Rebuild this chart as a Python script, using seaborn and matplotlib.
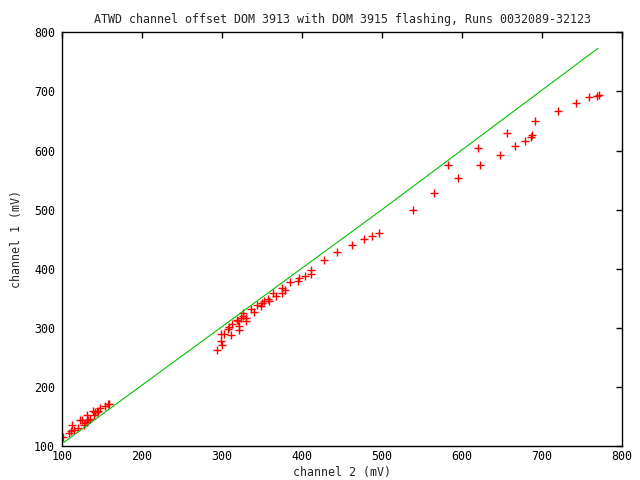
import pandas as pd
import matplotlib
matplotlib.use("Agg")
import matplotlib.pyplot as plt
import seaborn as sns

# channel 2 / channel 1 readings (mV)
ch2 = [101.7, 108.8, 111.3, 112.9, 115.4, 120.4, 122.5, 124.6, 127.1, 128.8,
       130.8, 131.7, 132.9, 134.6, 139.2, 140.4, 141.3, 143.8, 145.4, 147.1,
       153.8, 157.1, 159.1,
       294.2, 299.2, 300.4, 299.2, 302.9, 311.3, 307.5, 308.3, 312.9, 321.7,
       321.7, 318.3, 319.6, 324.2, 326.7, 326.7, 330.4, 330.4, 335.9, 340.0,
       344.2, 348.8, 350.4, 352.5, 357.9, 359.2, 363.8, 367.9, 375.0, 375.0,
       379.2, 385.4, 395.4, 396.7, 404.2, 411.3, 411.3, 427.5, 443.8,
       462.0, 478.0, 488.0, 496.0, 539.0,
       565.4, 582.9, 595.4, 620.4, 622.9, 647.9, 656.7, 666.7, 679.2, 686.7,
       687.9, 691.7, 720.4, 742.9, 758.8, 768.8, 771.0]
ch1 = [114.7, 121.5, 125.4, 135.6, 127.6, 131.0, 144.0, 144.6, 135.6, 138.5,
       141.2, 152.5, 144.0, 145.8, 159.3, 152.5, 158.1, 157.6, 159.8, 163.9,
       167.8, 170.7, 171.7,
       262.7, 278.0, 270.7, 289.3, 289.3, 288.1, 298.8, 301.2, 306.8, 303.4,
       296.1, 313.6, 311.4, 317.0, 324.9, 319.2, 316.4, 311.4, 331.7, 327.1,
       338.4, 336.1, 341.8, 344.6, 348.6, 344.6, 358.1, 353.7, 367.8, 358.8,
       363.2, 377.4, 378.5, 384.2, 387.6, 398.3, 391.5, 414.7, 428.3,
       440.0, 451.0, 456.0, 460.0, 499.0,
       528.3, 575.8, 553.7, 604.6, 575.8, 592.7, 630.0, 608.0, 616.4, 623.2,
       627.0, 650.3, 667.3, 680.8, 689.8, 693.0, 694.0]

# reference line
line_x = [102, 500, 770]
line_y = [106, 500, 773]

pts = pd.DataFrame({"ch2": ch2, "ch1": ch1})
ref = pd.DataFrame({"x": line_x, "y": line_y})

sns.set_style("white")
plt.rcParams['font.family'] = ['DejaVu Sans Mono']
plt.rcParams['font.size'] = 8.4

fig = plt.figure(figsize=(6.4, 4.8), dpi=100)
ax = fig.add_axes([0.0969, 0.0708, 0.875, 0.8619])

sns.lineplot(x="x", y="y", data=ref, color="#00c000", linewidth=0.8, ax=ax)
sns.scatterplot(x="ch2", y="ch1", data=pts, marker="+", color="red",
                s=30, linewidth=1.0, ax=ax)

ax.set_xlim(100, 800)
ax.set_ylim(100, 800)
ax.set_xticks(range(100, 801, 100))
ax.set_yticks(range(100, 801, 100))
ax.tick_params(direction="in", length=4.5, width=1, top=True, right=True,
               colors="black", labelsize=8.4, pad=3)
ax.tick_params(axis="y", pad=5)
for sp in ax.spines.values():
    sp.set_color("black")
    sp.set_linewidth(1)

ax.set_title("ATWD channel offset DOM 3913 with DOM 3915 flashing, Runs 0032089-32123",
             fontsize=8.4, pad=7)
ax.set_xlabel("channel 2 (mV)", fontsize=8.4, labelpad=2)
ax.set_ylabel("channel 1 (mV)", fontsize=8.4, labelpad=8)

plt.savefig("out.png", dpi=100)
